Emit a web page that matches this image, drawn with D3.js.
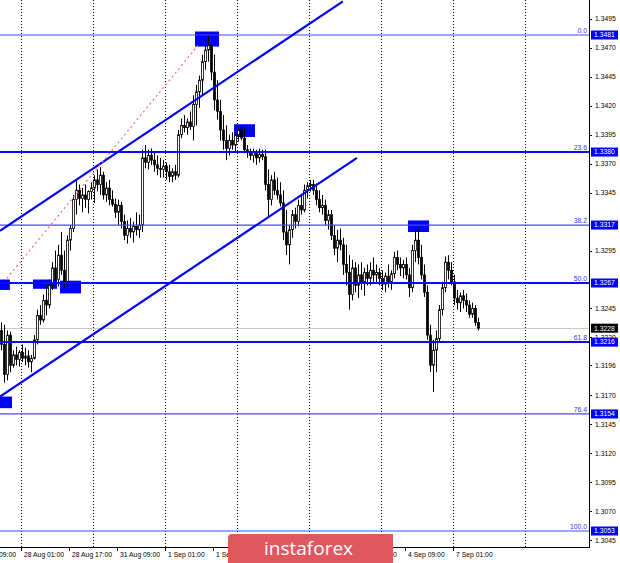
<!DOCTYPE html>
<html><head><meta charset="utf-8">
<script src="https://cdn.jsdelivr.net/npm/d3@7"></script>
<style>body{margin:0;background:#fff}svg{display:block}</style>
</head><body><svg id="c" width="620" height="563"></svg>
<script>
// ---- data (GBPUSD H1) ----
const opens=[1.3226,1.3214,1.3188,1.3222,1.3196,1.3205,1.3201,1.3207,1.3202,1.3204,
1.3199,1.3202,1.3218,1.3239,1.3235,1.3252,1.3248,1.3265,1.3280,1.3270,
1.3291,1.3278,1.3268,1.3304,1.3314,1.3339,1.3347,1.3340,1.3343,1.3339,
1.3346,1.3349,1.3356,1.3352,1.3360,1.3343,1.3349,1.3339,1.3335,1.3328,
1.3334,1.3320,1.3308,1.3314,1.3311,1.3316,1.3313,1.3317,1.3375,1.3371,
1.3377,1.3373,1.3369,1.3366,1.3365,1.3368,1.3363,1.3359,1.3363,1.3360,
1.3395,1.3403,1.3401,1.3406,1.3402,1.3421,1.3432,1.3442,1.3458,1.3468,
1.3472,1.3449,1.3425,1.3415,1.3399,1.3390,1.3383,1.3390,1.3386,1.3395,
1.3399,1.3392,1.3382,1.3380,1.3377,1.3380,1.3375,1.3378,1.3376,1.3352,
1.3339,1.3356,1.3347,1.3343,1.3336,1.3311,1.3300,1.3313,1.3326,1.3320,
1.3334,1.3330,1.3347,1.3351,1.3352,1.3347,1.3339,1.3332,1.3334,1.3321,
1.3326,1.3308,1.3297,1.3304,1.3300,1.3283,1.3276,1.3257,1.3280,1.3265,
1.3274,1.3268,1.3276,1.3271,1.3278,1.3274,1.3276,1.3271,1.3266,1.3273,
1.3268,1.3275,1.3289,1.3283,1.3280,1.3283,1.3274,1.3263,1.3295,1.3304,
1.3289,1.3274,1.3259,1.3222,1.3196,1.3209,1.3219,1.3244,1.3263,1.3285,
1.3278,1.3268,1.3254,1.3250,1.3256,1.3252,1.3248,1.3240,1.3245,1.3233];
const highs=[1.3233,1.3231,1.3226,1.3225,1.3209,1.3212,1.3209,1.3214,1.3211,1.3209,
1.3205,1.3222,1.3244,1.3248,1.3257,1.3265,1.3270,1.3285,1.3295,1.3300,
1.3311,1.3295,1.3308,1.3317,1.3343,1.3356,1.3352,1.3349,1.3352,1.3347,
1.3354,1.3360,1.3365,1.3367,1.3363,1.3354,1.3356,1.3347,1.3340,1.3339,
1.3337,1.3326,1.3321,1.3323,1.3320,1.3328,1.3326,1.3382,1.3386,1.3382,
1.3383,1.3380,1.3377,1.3375,1.3373,1.3371,1.3369,1.3366,1.3369,1.3399,
1.3409,1.3412,1.3409,1.3415,1.3429,1.3438,1.3446,1.3464,1.3477,1.3481,
1.3477,1.3464,1.3442,1.3425,1.3412,1.3403,1.3395,1.3397,1.3401,1.3402,
1.3403,1.3401,1.3386,1.3383,1.3383,1.3382,1.3383,1.3382,1.3382,1.3365,
1.3360,1.3363,1.3358,1.3354,1.3347,1.3330,1.3317,1.3330,1.3332,1.3339,
1.3343,1.3352,1.3354,1.3356,1.3356,1.3353,1.3347,1.3343,1.3339,1.3330,
1.3330,1.3317,1.3313,1.3314,1.3306,1.3300,1.3291,1.3287,1.3285,1.3283,
1.3285,1.3280,1.3283,1.3285,1.3289,1.3283,1.3280,1.3278,1.3276,1.3283,
1.3278,1.3294,1.3295,1.3289,1.3287,1.3289,1.3280,1.3300,1.3314,1.3313,
1.3300,1.3283,1.3265,1.3231,1.3218,1.3226,1.3248,1.3268,1.3290,1.3291,
1.3285,1.3274,1.3261,1.3259,1.3261,1.3258,1.3252,1.3250,1.3248,1.3237];
const lows=[1.3209,1.3181,1.3183,1.3190,1.3194,1.3196,1.3195,1.3199,1.3196,1.3194,
1.3190,1.3201,1.3214,1.3231,1.3233,1.3239,1.3245,1.3261,1.3265,1.3264,
1.3274,1.3263,1.3264,1.3295,1.3311,1.3326,1.3334,1.3328,1.3332,1.3327,
1.3339,1.3336,1.3346,1.3343,1.3339,1.3337,1.3334,1.3333,1.3323,1.3317,
1.3314,1.3304,1.3301,1.3306,1.3302,1.3308,1.3306,1.3311,1.3366,1.3365,
1.3369,1.3363,1.3360,1.3358,1.3358,1.3356,1.3354,1.3354,1.3356,1.3358,
1.3392,1.3397,1.3395,1.3399,1.3390,1.3403,1.3418,1.3429,1.3451,1.3458,
1.3442,1.3416,1.3408,1.3390,1.3382,1.3373,1.3377,1.3382,1.3380,1.3389,
1.3390,1.3379,1.3375,1.3373,1.3371,1.3369,1.3371,1.3373,1.3347,1.3324,
1.3334,1.3343,1.3339,1.3333,1.3304,1.3291,1.3283,1.3306,1.3314,1.3316,
1.3326,1.3328,1.3340,1.3346,1.3343,1.3334,1.3328,1.3326,1.3317,1.3313,
1.3304,1.3291,1.3285,1.3295,1.3274,1.3265,1.3244,1.3252,1.3259,1.3254,
1.3261,1.3256,1.3265,1.3265,1.3268,1.3268,1.3265,1.3261,1.3259,1.3263,
1.3261,1.3271,1.3278,1.3273,1.3271,1.3270,1.3255,1.3259,1.3285,1.3283,
1.3270,1.3255,1.3218,1.3190,1.3173,1.3190,1.3216,1.3239,1.3259,1.3270,
1.3265,1.3248,1.3244,1.3242,1.3245,1.3242,1.3237,1.3237,1.3230,1.3226];
const closes=[1.3214,1.3188,1.3222,1.3196,1.3205,1.3201,1.3207,1.3202,1.3204,1.3199,
1.3202,1.3218,1.3239,1.3235,1.3252,1.3248,1.3265,1.3280,1.3270,1.3291,
1.3278,1.3268,1.3304,1.3314,1.3339,1.3347,1.3340,1.3343,1.3339,1.3346,
1.3349,1.3356,1.3352,1.3360,1.3343,1.3349,1.3339,1.3335,1.3328,1.3334,
1.3320,1.3308,1.3314,1.3311,1.3316,1.3313,1.3317,1.3375,1.3371,1.3377,
1.3373,1.3369,1.3366,1.3365,1.3368,1.3363,1.3359,1.3363,1.3360,1.3395,
1.3403,1.3401,1.3406,1.3402,1.3421,1.3432,1.3442,1.3458,1.3468,1.3472,
1.3449,1.3425,1.3415,1.3399,1.3390,1.3383,1.3390,1.3386,1.3395,1.3399,
1.3392,1.3382,1.3380,1.3377,1.3380,1.3375,1.3378,1.3376,1.3352,1.3339,
1.3356,1.3347,1.3343,1.3336,1.3311,1.3300,1.3313,1.3326,1.3320,1.3334,
1.3330,1.3347,1.3351,1.3352,1.3347,1.3339,1.3332,1.3334,1.3321,1.3326,
1.3308,1.3297,1.3304,1.3300,1.3283,1.3276,1.3257,1.3280,1.3265,1.3274,
1.3268,1.3276,1.3271,1.3278,1.3274,1.3276,1.3271,1.3266,1.3273,1.3268,
1.3275,1.3289,1.3283,1.3280,1.3283,1.3274,1.3263,1.3295,1.3304,1.3289,
1.3274,1.3259,1.3222,1.3196,1.3209,1.3219,1.3244,1.3263,1.3285,1.3278,
1.3268,1.3254,1.3250,1.3256,1.3252,1.3248,1.3240,1.3245,1.3233,1.3228];

const timeLabels=["27 Aug 09:00","28 Aug 01:00","28 Aug 17:00","31 Aug 09:00","1 Sep 01:00","1 Sep 17:00","2 Sep 09:00","3 Sep 01:00","3 Sep 17:00","4 Sep 09:00","7 Sep 01:00"];
const timeLabelBars=[-9,7,23,39,55,71,87,103,119,135,151];
const gridBars=[7,31,55,79,103,127,151,175];
const priceTicks=[1.3495,1.3470,1.3445,1.3420,1.3395,1.3370,1.3345,1.3295,1.3245,1.3220,1.3196,1.3170,1.3145,1.3120,1.3095,1.3070,1.3045];
const fibLevels=[1.3481,1.3380,1.3317,1.3267,1.3216,1.3154,1.3053];
const fibNames=["0.0","23.6","38.2","50.0","61.8","76.4","100.0"];
const fibThick=[false,true,false,true,true,false,false];
const lastPrice=1.3228;
// annotations: [barIndex, price]
const channelUpper=[[0,1.3312],[114.3,1.3510]];
const channelLower=[[0,1.3169],[119,1.3375]];
const fibTrend=[[2.3,1.3271],[66,1.3472]];
// boxes: [barStart, barEnd, priceTop, priceBottom]
const boxes=[[0,3.3,1.3270,1.3261],[11,19,1.3270,1.3262],[20,27,1.3269,1.3258],[0,4,1.3169,1.3159],[65,73,1.3484,1.3471],[78,85,1.3404,1.3393],[136,143,1.3321,1.3311]];

// ---- drawing ----
const svg=d3.select("#c");
const W=589, H=547;
const x=d3.scaleLinear().domain([0,160]).range([0,480]);
const y=d3.scaleLinear().domain([1.3053,1.3481]).range([531,35]);
const font="'Liberation Sans', Arial, sans-serif";

svg.append("rect").attr("width",620).attr("height",563).attr("fill","#fff");
svg.append("defs").append("clipPath").attr("id","clip").append("rect").attr("x",0).attr("y",0).attr("width",W).attr("height",H);
const plot=svg.append("g").attr("clip-path","url(#clip)");

// vertical dotted grid
plot.selectAll("line.grid").data(gridBars).join("line")
  .attr("x1",d=>Math.round(x(d))+0.5).attr("x2",d=>Math.round(x(d))+0.5)
  .attr("y1",0).attr("y2",H).attr("stroke","#000").attr("stroke-width",1).attr("stroke-dasharray","1,2");

// last price line
plot.append("line").attr("x1",0).attr("x2",W).attr("y1",Math.round(y(lastPrice))+0.5).attr("y2",Math.round(y(lastPrice))+0.5)
  .attr("stroke","#c8c8c8").attr("stroke-width",1);

// boxes
plot.selectAll("rect.box").data(boxes).join("rect")
  .attr("x",d=>x(d[0])).attr("width",d=>x(d[1])-x(d[0]))
  .attr("y",d=>y(d[2])).attr("height",d=>y(d[3])-y(d[2])).attr("fill","#0000ff");

// candles
const idx=d3.range(closes.length);
plot.selectAll("line.wick").data(idx).join("line")
  .attr("x1",i=>x(i)+1.5).attr("x2",i=>x(i)+1.5)
  .attr("y1",i=>y(highs[i])).attr("y2",i=>y(lows[i])).attr("stroke","#000").attr("stroke-width",1);
plot.selectAll("rect.body").data(idx).join("rect")
  .attr("x",i=>x(i)+0.6).attr("width",1.8)
  .attr("y",i=>y(Math.max(opens[i],closes[i])))
  .attr("height",i=>Math.max(0.8,Math.abs(y(opens[i])-y(closes[i]))))
  .attr("fill",i=>closes[i]>=opens[i]?"#fff":"#000").attr("stroke","#000").attr("stroke-width",0.8);

// fib lines
plot.selectAll("line.fib").data(fibLevels).join("line")
  .attr("x1",0).attr("x2",W).attr("y1",d=>y(d)).attr("y2",d=>y(d))
  .attr("stroke",(d,i)=>fibThick[i]?"#0a0aff":"#4646ff").attr("stroke-width",(d,i)=>fibThick[i]?2:1.2);
plot.selectAll("text.fib").data(fibLevels).join("text")
  .attr("x",587).attr("y",d=>y(d)-2).attr("text-anchor","end")
  .attr("font-family",font).attr("font-size",6.8).attr("fill","#3434ff").text((d,i)=>fibNames[i]);

// channel lines & fib trend line
const line=d3.line().x(d=>x(d[0])).y(d=>y(d[1]));
plot.append("path").attr("d",line(channelUpper)).attr("stroke","#0000ff").attr("stroke-width",2.2).attr("fill","none");
plot.append("path").attr("d",line(channelLower)).attr("stroke","#0000ff").attr("stroke-width",2.2).attr("fill","none");
plot.append("path").attr("d",line(fibTrend)).attr("stroke","#ff6b6b").attr("stroke-width",1.2).attr("stroke-dasharray","2,3").attr("fill","none");

// frame
svg.append("line").attr("x1",W+0.5).attr("x2",W+0.5).attr("y1",0).attr("y2",H+1).attr("stroke","#000");
svg.append("line").attr("x1",0).attr("x2",W+1).attr("y1",H+0.5).attr("y2",H+0.5).attr("stroke","#000");

// right axis
const ax=svg.append("g");
ax.selectAll("line").data(priceTicks).join("line")
  .attr("x1",W).attr("x2",W+3).attr("y1",d=>Math.round(y(d))+0.5).attr("y2",d=>Math.round(y(d))+0.5).attr("stroke","#000");
ax.selectAll("text").data(priceTicks).join("text")
  .attr("x",595).attr("y",d=>y(d)).attr("dy","0.35em")
  .attr("font-family",font).attr("font-size",6.8).attr("fill","#000").text(d=>d.toFixed(4));

// highlighted level labels
const hl=svg.append("g");
hl.selectAll("rect").data(fibLevels).join("rect")
  .attr("x",591).attr("width",27).attr("y",d=>y(d)-4.5).attr("height",9).attr("fill","#0000ff");
hl.selectAll("text").data(fibLevels).join("text")
  .attr("x",594).attr("y",d=>y(d)).attr("dy","0.35em")
  .attr("font-family",font).attr("font-size",6.8).attr("fill","#fff").text(d=>d.toFixed(4));
svg.append("rect").attr("x",591).attr("width",27).attr("y",y(lastPrice)-4.5).attr("height",9).attr("fill","#000");
svg.append("text").attr("x",594).attr("y",y(lastPrice)).attr("dy","0.35em")
  .attr("font-family",font).attr("font-size",6.8).attr("fill","#fff").text(lastPrice.toFixed(4));

// time axis
const tx=svg.append("g");
tx.selectAll("line").data(timeLabelBars).join("line")
  .attr("x1",d=>Math.round(x(d))+0.5).attr("x2",d=>Math.round(x(d))+0.5).attr("y1",H).attr("y2",H+4).attr("stroke","#000");
tx.selectAll("text").data(timeLabelBars).join("text")
  .attr("x",d=>x(d)+3).attr("y",H+10)
  .attr("font-family",font).attr("font-size",6.8).attr("fill","#000").text((d,i)=>timeLabels[i]);

// watermark logo
svg.append("path").attr("d","M228,563 L228,538 Q228,534 232,534 L393,534 L393,563 Z").attr("fill","#e0585f");
svg.append("text").attr("x",264).attr("y",555).attr("font-family","'Open Sans', 'Noto Sans', sans-serif")
  .attr("font-size",19).attr("fill","#fff").text("instaforex");
</script></body></html>
